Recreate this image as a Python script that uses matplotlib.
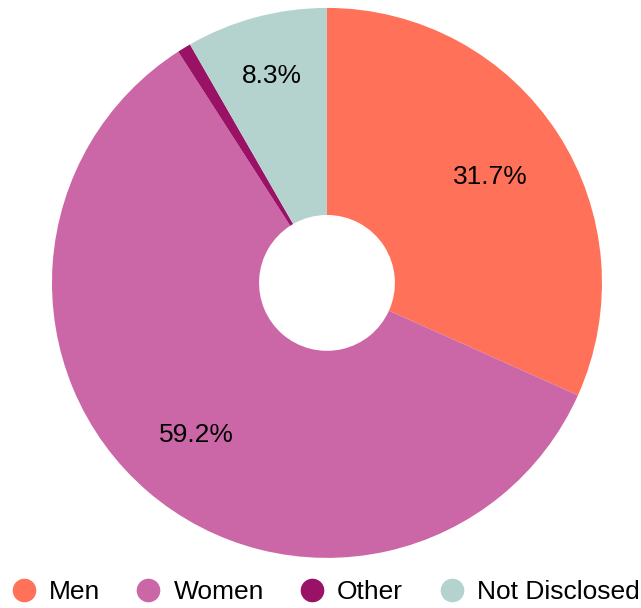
import numpy as np
import matplotlib.pyplot as plt
from matplotlib.lines import Line2D

labels = ["Men", "Women", "Other", "Not Disclosed"]
shares = [31.7, 59.2, 0.8, 8.3]
colors = ["#FF7259", "#CC67A7", "#9A1266", "#B5D3CE"]
shown = ["31.7%", "59.2%", "", "8.3%"]
label_dist = [0.71, 0.73, 0.73, 0.78]

plt.rcParams['font.family'] = ['Liberation Sans', 'DejaVu Sans']

fig = plt.figure(figsize=(6.41, 6.08), dpi=100)
ax = fig.add_axes([0.0811, 0.0822, 0.858, 0.905])

wedges, _ = ax.pie(shares, colors=colors, startangle=90, counterclock=False,
                   wedgeprops=dict(width=0.753, linewidth=0))
ax.set_xlim(-1, 1)
ax.set_ylim(-1, 1)
ax.set_aspect('equal')

for w, txt, d in zip(wedges, shown, label_dist):
    if not txt:
        continue
    ang = np.deg2rad((w.theta1 + w.theta2) / 2)
    ax.text(d * np.cos(ang), d * np.sin(ang), txt, ha='center', va='center',
            fontsize=19, color='black')

handles = [Line2D([], [], marker='o', linestyle='', markersize=16,
                  markerfacecolor=c, markeredgecolor=c) for c in colors]
fig.legend(handles, labels, loc='center', bbox_to_anchor=(0.507, 0.026),
           ncol=4, frameon=False, fontsize=19, handlelength=1.0,
           handletextpad=0.45, columnspacing=1.33, borderpad=0)

fig.savefig("out.png", dpi=100)
